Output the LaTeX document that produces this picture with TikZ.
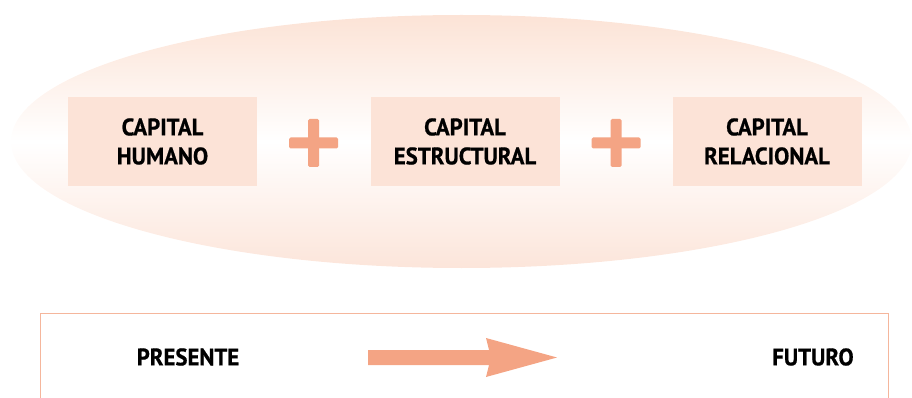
\documentclass[tikz,border=0pt]{standalone}
\usepackage{fontspec}
\setmainfont{PT Sans}[FakeStretch=0.95,BoldFeatures={FakeBold=0.6}]
\usetikzlibrary{shapes.geometric}
\definecolor{boxpink}{HTML}{FCE3D7}
\definecolor{ellpink}{HTML}{FCE3D6}
\definecolor{ellpinkb}{HTML}{FCE5DA}
\definecolor{salmon}{HTML}{F4A484}
\definecolor{framepink}{HTML}{F5B69C}
\tikzset{
  capbox/.style={fill=boxpink, minimum width=189pt, minimum height=89pt, inner sep=0pt,
    align=center, font=\bfseries\fontsize{24}{29}\selectfont},
  lbl/.style={font=\bfseries\fontsize{24}{29}\selectfont, inner sep=0pt},
  plusbar/.style={fill=salmon, rounded corners=1.5pt},
}
\begin{document}
\begin{tikzpicture}[x=1pt,y=-1pt]
\useasboundingbox (0,0) rectangle (912,398);
% ellipse
\path[top color=ellpink, bottom color=ellpinkb, middle color=white]
  (461.5,141.5) ellipse [x radius=450.5, y radius=126.5];
% boxes
\node[capbox] (hum) at (162.5,141.5) {CAPITAL\\HUMANO};
\node[capbox] (est) at (465,141.5) {CAPITAL\\ESTRUCTURAL};
\node[capbox] (rel) at (767,141.5) {CAPITAL\\RELACIONAL};
% plus signs
\foreach \cx in {313.5,616} {
  \fill[plusbar] (\cx-24.5,137.5) rectangle (\cx+24.5,148.5);
  \fill[plusbar] (\cx-5.5,119) rectangle (\cx+5.5,167);
}
% lower frame
\draw[framepink, line width=1pt] (40,399) -- (40,313.5) -- (888,313.5) -- (888,399);
\node[lbl] (pres) at (188,357) {PRESENTE};
\node[lbl] (fut) at (813,357) {FUTURO};
\fill[salmon] (368,350) -- (489,350) -- (486,338) -- (557,357.5) -- (486,377) -- (489,365) -- (368,365) -- cycle;
\end{tikzpicture}
\end{document}
